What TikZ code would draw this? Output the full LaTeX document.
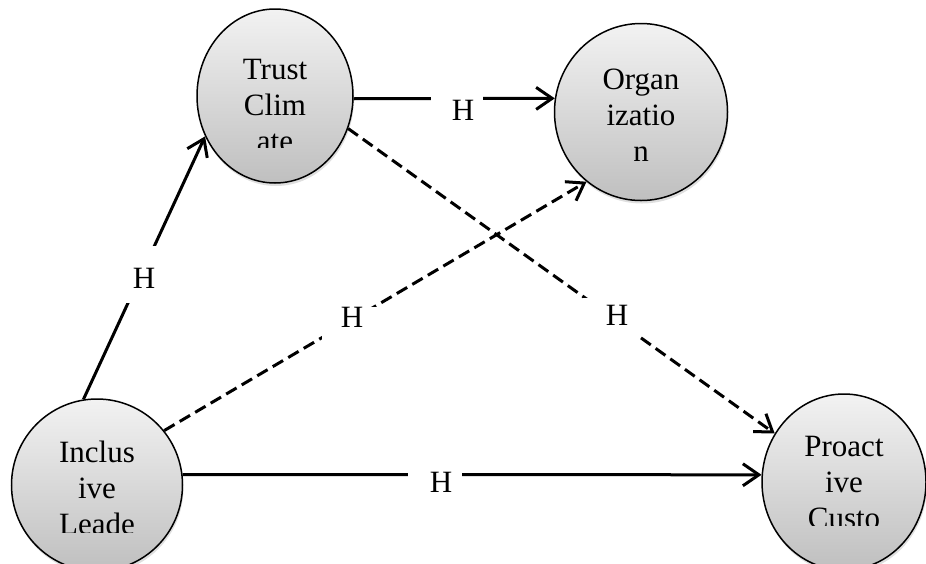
\documentclass[tikz,border=0pt]{standalone}
\usepackage{fontspec}
\setmainfont{Liberation Serif}
\usetikzlibrary{arrows.meta,shapes.geometric,shadows}

\begin{document}
\begin{tikzpicture}[x=0.5pt, y=-0.5pt,
    construct/.style={ellipse, draw=black, line width=0.75pt, inner sep=0pt,
      top color=gray!10, bottom color=gray!50,
      drop shadow={shadow xshift=0.5pt, shadow yshift=-1.5pt, opacity=0.25}},
    words/.style={align=center, font=\fontsize{15.5}{18}\selectfont},
    hyp/.style={line width=1.5pt, -{Straight Barb[length=8pt, width=11pt]}},
    hdash/.style={hyp, dash pattern=on 6pt off 3pt},
    hlab/.style={fill=white, inner sep=0pt, anchor=base, font=\fontsize{15.5}{18}\selectfont}
  ]
    \clip (0,0) rectangle (926,563);

    % constructs
    \node[construct, minimum width=78pt, minimum height=87pt] (trust) at (275,96) {};
    \node[construct, minimum width=86.5pt, minimum height=88.5pt] (org) at (641,112) {};
    \node[construct, minimum width=85.5pt, minimum height=86pt] (incl) at (97,485) {};
    \node[construct, minimum width=82pt, minimum height=88pt] (proact) at (844,482) {};

    % texts, cut off at the bottom of their boxes
    \begin{scope}
      \clip (190,0) rectangle (360,147);
      \node[words] (trusttxt) at (275,105) {Trust\\Clim\\ate};
    \end{scope}
    \node[words] (orgtxt) at (641,115) {Organ\\izatio\\n};
    \begin{scope}
      \clip (0,400) rectangle (190,532);
      \node[words] (incltxt) at (97,488) {Inclus\\ive\\Leade};
    \end{scope}
    \begin{scope}
      \clip (750,400) rectangle (926,525);
      \node[words] (proacttxt) at (844,482) {Proact\\ive\\Custo};
    \end{scope}

    % paths
    \draw[hyp] (incl.99) -- (trust.210);
    \draw[hyp] (trust.-2) -- (org.171);
    \draw[hdash] (trust.-24) -- (proact.145);
    \draw[hdash] (incl.39) -- (org.232);
    \draw[hyp] (incl.7) -- (proact.175);

    % labels
    \foreach \i/\lx/\ly/\sh/\th/\td/\mw in {
        1/141/288/3/21/7.5/21,
        2/457/120/6/13/1/26,
        3/611.5/325/5.5/13.5/6/28.5,
        4/349.5/327/2.5/10/6.5/27.5,
        5/435/492/6/11/1/27} {
      \node[hlab, text height=\th pt, text depth=\td pt, minimum width=\mw pt]
        (h\i) at (\lx,\ly) {\hspace*{\sh pt}H};
    }
\end{tikzpicture}
\end{document}
